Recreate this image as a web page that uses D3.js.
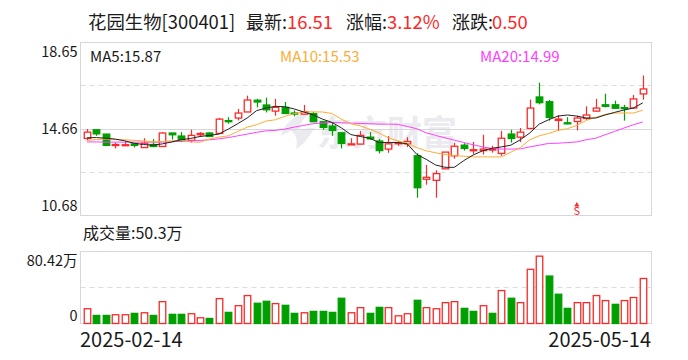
<!DOCTYPE html>
<html>
<head>
<meta charset="utf-8">
<script src="https://cdn.jsdelivr.net/npm/d3@7"></script>
<style>
  html, body { margin: 0; padding: 0; background: #fff; }
  svg { display: block; }
  text { font-family: "Noto Sans CJK SC", "Open Sans", sans-serif; }
</style>
</head>
<body>
<svg id="vis"></svg>
<script>
/* Constantes */
const WIDTH = 688;
const HEIGHT = 360;
const BOX = { left: 80.5, right: 651.5, priceTop: 42.5, priceBottom: 215.5, volTop: 251.5, volBottom: 323.5 };
const RED = "#fb2a2a";
const GREEN = "#009f00";
const GRID = "#d6d6dc";
const STEP = 9.42;

/* Datos */
const open = [14.23,14.63,14.43,13.92,13.92,13.98,13.81,13.95,13.86,14.48,14.34,14.14,14.40,14.48,14.46,15.05,15.17,15.45,15.99,15.77,15.49,15.66,15.40,15.35,15.37,15.00,14.80,14.49,13.97,13.97,14.29,14.11,13.74,14.00,13.98,13.43,12.35,12.30,12.83,13.43,13.92,13.67,13.67,13.71,13.54,14.43,14.29,14.69,16.14,15.92,15.06,14.95,15.01,15.15,15.49,15.78,15.78,15.65,15.63,16.28];
const high = [14.66,14.63,14.43,14.04,14.12,13.98,14.24,14.20,14.52,14.48,14.52,14.63,14.52,14.52,15.18,15.21,15.59,16.20,16.06,16.11,16.05,15.91,15.52,15.77,15.46,15.00,14.94,14.49,14.24,14.57,14.52,14.21,14.34,14.11,14.29,13.55,13.01,12.76,13.60,14.03,14.01,14.07,14.40,13.89,14.58,14.63,14.71,16.02,16.80,16.00,15.31,15.21,15.28,15.71,16.05,16.29,15.97,15.78,16.23,17.13];
const low = [14.12,14.35,13.91,13.77,13.89,13.81,13.81,13.83,13.86,14.18,14.07,14.04,14.31,14.32,14.46,14.91,15.06,15.45,15.66,15.43,15.28,15.37,15.25,15.34,15.00,14.63,14.35,13.77,13.97,13.97,14.18,13.54,13.57,13.89,13.83,11.50,12.10,11.50,12.83,13.30,13.67,13.52,13.49,13.58,13.43,14.04,14.06,14.66,15.80,15.05,14.57,14.88,14.60,15.09,15.46,15.66,15.59,15.05,15.60,16.02];
const close = [14.52,14.44,13.91,13.95,13.94,13.91,14.01,13.86,14.48,14.40,14.12,14.37,14.46,14.32,15.12,15.00,15.40,16.00,15.91,15.55,15.66,15.38,15.37,15.46,15.00,14.74,14.60,14.00,13.98,14.37,14.21,13.67,13.98,14.03,14.09,11.96,12.44,12.61,13.60,13.87,13.77,13.71,13.74,13.74,14.24,14.23,14.52,15.63,15.88,15.20,15.12,14.92,15.17,15.31,15.63,15.71,15.62,15.62,16.05,16.51];
const ma5 = [14.26,14.27,14.24,14.20,14.12,14.01,13.95,13.92,13.98,14.07,14.17,14.23,14.32,14.37,14.43,14.66,14.91,15.17,15.51,15.63,15.71,15.69,15.59,15.45,15.32,15.12,14.97,14.72,14.41,14.32,14.24,14.04,14.04,14.04,13.98,13.50,13.27,13.01,12.90,12.90,13.21,13.47,13.66,13.78,13.84,13.92,14.17,14.48,14.89,15.09,15.26,15.31,15.26,15.17,15.17,15.31,15.43,15.54,15.63,15.87];
const ma10 = [14.14,14.18,14.20,14.18,14.17,14.14,14.12,14.07,14.09,14.12,14.14,14.07,14.06,14.20,14.29,14.35,14.55,14.75,14.86,15.03,15.09,15.25,15.37,15.45,15.45,15.45,15.38,15.12,14.91,14.81,14.66,14.48,14.26,14.12,14.01,13.81,13.66,13.57,13.49,13.44,13.41,13.38,13.38,13.38,13.38,13.60,13.81,14.17,14.35,14.46,14.60,14.68,14.83,15.06,15.20,15.34,15.40,15.40,15.40,15.53];
const ma20 = [14.07,14.07,14.06,14.06,14.06,14.06,14.06,14.06,14.06,14.07,14.11,14.12,14.14,14.17,14.21,14.27,14.35,14.43,14.51,14.58,14.60,14.66,14.75,14.83,14.91,14.94,14.97,14.95,14.94,14.92,14.91,14.89,14.89,14.88,14.78,14.68,14.49,14.37,14.26,14.15,14.04,13.94,13.84,13.77,13.74,13.74,13.75,13.84,13.92,14.00,14.01,14.04,14.07,14.17,14.24,14.40,14.55,14.71,14.86,14.99];
const volume = [16.5,9,9,9.8,9.8,11.3,12,9,24.4,10.2,10.2,10.9,6.4,5.6,27.8,12.4,19.9,31.2,22.6,24.8,22.2,20.3,11.3,12,13.5,13.5,12.4,28.2,12,17.7,11.3,18,17.7,8.6,10.9,25.9,17.7,16.5,23.3,24.4,16.9,13.5,19.9,11.3,36.8,28.2,23.3,60.5,75.2,53,32.7,16.9,23.3,23.3,31.2,25.6,21.4,25.6,29,50.3];
const volumeUp = [1,0,0,1,1,0,1,0,1,0,0,1,1,0,1,0,1,1,0,0,1,0,0,1,0,0,0,0,1,1,0,0,1,1,1,0,1,1,1,1,0,0,1,0,1,0,1,1,1,0,0,0,1,1,1,1,0,1,1,1];
const priceTicks = ["18.65", "14.66", "10.68"];
const volumeTicks = ["80.42万", "0"];
const dateLabels = ["2025-02-14", "2025-05-14"];
const signalIndex = [52];

const svg = d3.select("#vis").attr("width", WIDTH).attr("height", HEIGHT);

const xScale = d3.scaleLinear().domain([0, open.length - 1]).range([87, 87 + STEP * (open.length - 1)]);
const yScale = d3.scaleLinear().domain([10.68, 18.65]).range([BOX.priceBottom, BOX.priceTop]);
const volScale = d3.scaleLinear().domain([0, 80.42]).range([BOX.volBottom, BOX.volTop]);

// Marca de agua
const mark = svg.append("g").attr("fill", "#ebebef");
mark.append("path")
  .attr("d", "M281 136 C284 124 296 113 313 110 C303 118 299 125 298 131 C304 128 309 128 315 128 C309 136 303 146 296 149 C298 140 296 134 291 131 C287 132 284 134 281 136 Z");
mark.append("text")
  .attr("x", 317).attr("y", 146)
  .attr("font-size", 35).attr("font-weight", 700)
  .text("东方财富");

// Cajas
[[BOX.priceTop, BOX.priceBottom], [BOX.volTop, BOX.volBottom]].forEach(([t, b]) => {
  svg.append("rect")
    .attr("x", BOX.left).attr("y", t)
    .attr("width", BOX.right - BOX.left).attr("height", b - t)
    .attr("fill", "none").attr("stroke", GRID);
});

// Lineas de la grilla
const hline = (y, dashed) => svg.append("line")
  .attr("x1", BOX.left).attr("x2", BOX.right)
  .attr("y1", Math.round(y) + 0.5).attr("y2", Math.round(y) + 0.5)
  .attr("stroke", dashed ? "#dcdcdc" : GRID)
  .attr("stroke-dasharray", dashed ? "5 4" : null);
hline(yScale(16.66) - 0.5, true);
hline(yScale(14.66) - 0.5, false);
hline(yScale(12.67) - 0.5, true);
hline(volScale(40.21) - 0.5, true);

// Velas
const candles = svg.append("g").selectAll("g")
  .data(d3.range(open.length))
  .join("g");

candles.append("line")
  .attr("x1", i => Math.round(xScale(i)) + 0.5)
  .attr("x2", i => Math.round(xScale(i)) + 0.5)
  .attr("y1", i => yScale(high[i]))
  .attr("y2", i => yScale(low[i]))
  .attr("stroke", i => close[i] >= open[i] ? RED : GREEN)
  .attr("stroke-width", 1.2);

candles.append("rect")
  .attr("x", i => Math.round(xScale(i)) - 2.75)
  .attr("width", 6.5)
  .attr("y", i => yScale(Math.max(open[i], close[i])))
  .attr("height", i => Math.max(1, Math.abs(yScale(open[i]) - yScale(close[i]))))
  .attr("fill", i => close[i] >= open[i] ? "#fff" : GREEN)
  .attr("stroke", i => close[i] >= open[i] ? RED : GREEN)
  .attr("stroke-width", 1.3);

// Medias moviles
const line = d3.line().x((d, i) => xScale(i)).y(d => yScale(d));
[[ma20, "#ff40ff"], [ma10, "#ffac33"], [ma5, "#222222"]].forEach(([serie, color]) => {
  svg.append("path").datum(serie)
    .attr("d", line)
    .attr("fill", "none")
    .attr("stroke", color)
    .attr("stroke-width", 1);
});

// Volumen
svg.append("g").selectAll("rect")
  .data(volume)
  .join("rect")
  .attr("x", (d, i) => Math.round(xScale(i)) - 2.75)
  .attr("width", 6.5)
  .attr("y", d => volScale(d))
  .attr("height", d => BOX.volBottom - volScale(d))
  .attr("fill", (d, i) => volumeUp[i] ? "#fff" : GREEN)
  .attr("stroke", (d, i) => volumeUp[i] ? RED : GREEN)
  .attr("stroke-width", 1.3);

// Senal S
signalIndex.forEach(i => {
  const x = xScale(i);
  svg.append("path")
    .attr("d", d3.symbol(d3.symbolTriangle, 12)())
    .attr("transform", `translate(${x} 205)`)
    .attr("fill", RED);
  svg.append("text")
    .attr("x", x).attr("y", 215)
    .attr("text-anchor", "middle")
    .attr("font-size", 11)
    .attr("fill", RED)
    .text("S");
});

// Textos
const label = (x, y, txt, size, color, anchor) => svg.append("text")
  .attr("x", x).attr("y", y)
  .attr("font-size", size)
  .attr("fill", color || "#1a1a1a")
  .attr("text-anchor", anchor || "start")
  .text(txt);

label(88, 29, "花园生物[300401]", 18.4);
label(246, 29, "最新:", 18);
label(287, 29, "16.51", 18.4, RED);
label(346, 29, "涨幅:", 18);
label(387, 29, "3.12%", 18.4, RED);
label(452, 29, "涨跌:", 18);
label(492, 29, "0.50", 18.4, RED);

label(90, 62, "MA5:15.87", 15);
label(280, 62, "MA10:15.53", 15, "#ffac33");
label(480, 62, "MA20:14.99", 15, "#ff40ff");

label(77.5, 57, priceTicks[0], 14.5, null, "end");
label(77.5, 134, priceTicks[1], 14.5, null, "end");
label(77.5, 211, priceTicks[2], 14.5, null, "end");

label(83, 239, "成交量:50.3万", 16);
label(77.5, 266, volumeTicks[0], 14.5, null, "end");
label(77.5, 321, volumeTicks[1], 14.5, null, "end");

label(80, 347, dateLabels[0], 20);
label(651, 347, dateLabels[1], 20, null, "end");
</script>
</body>
</html>
